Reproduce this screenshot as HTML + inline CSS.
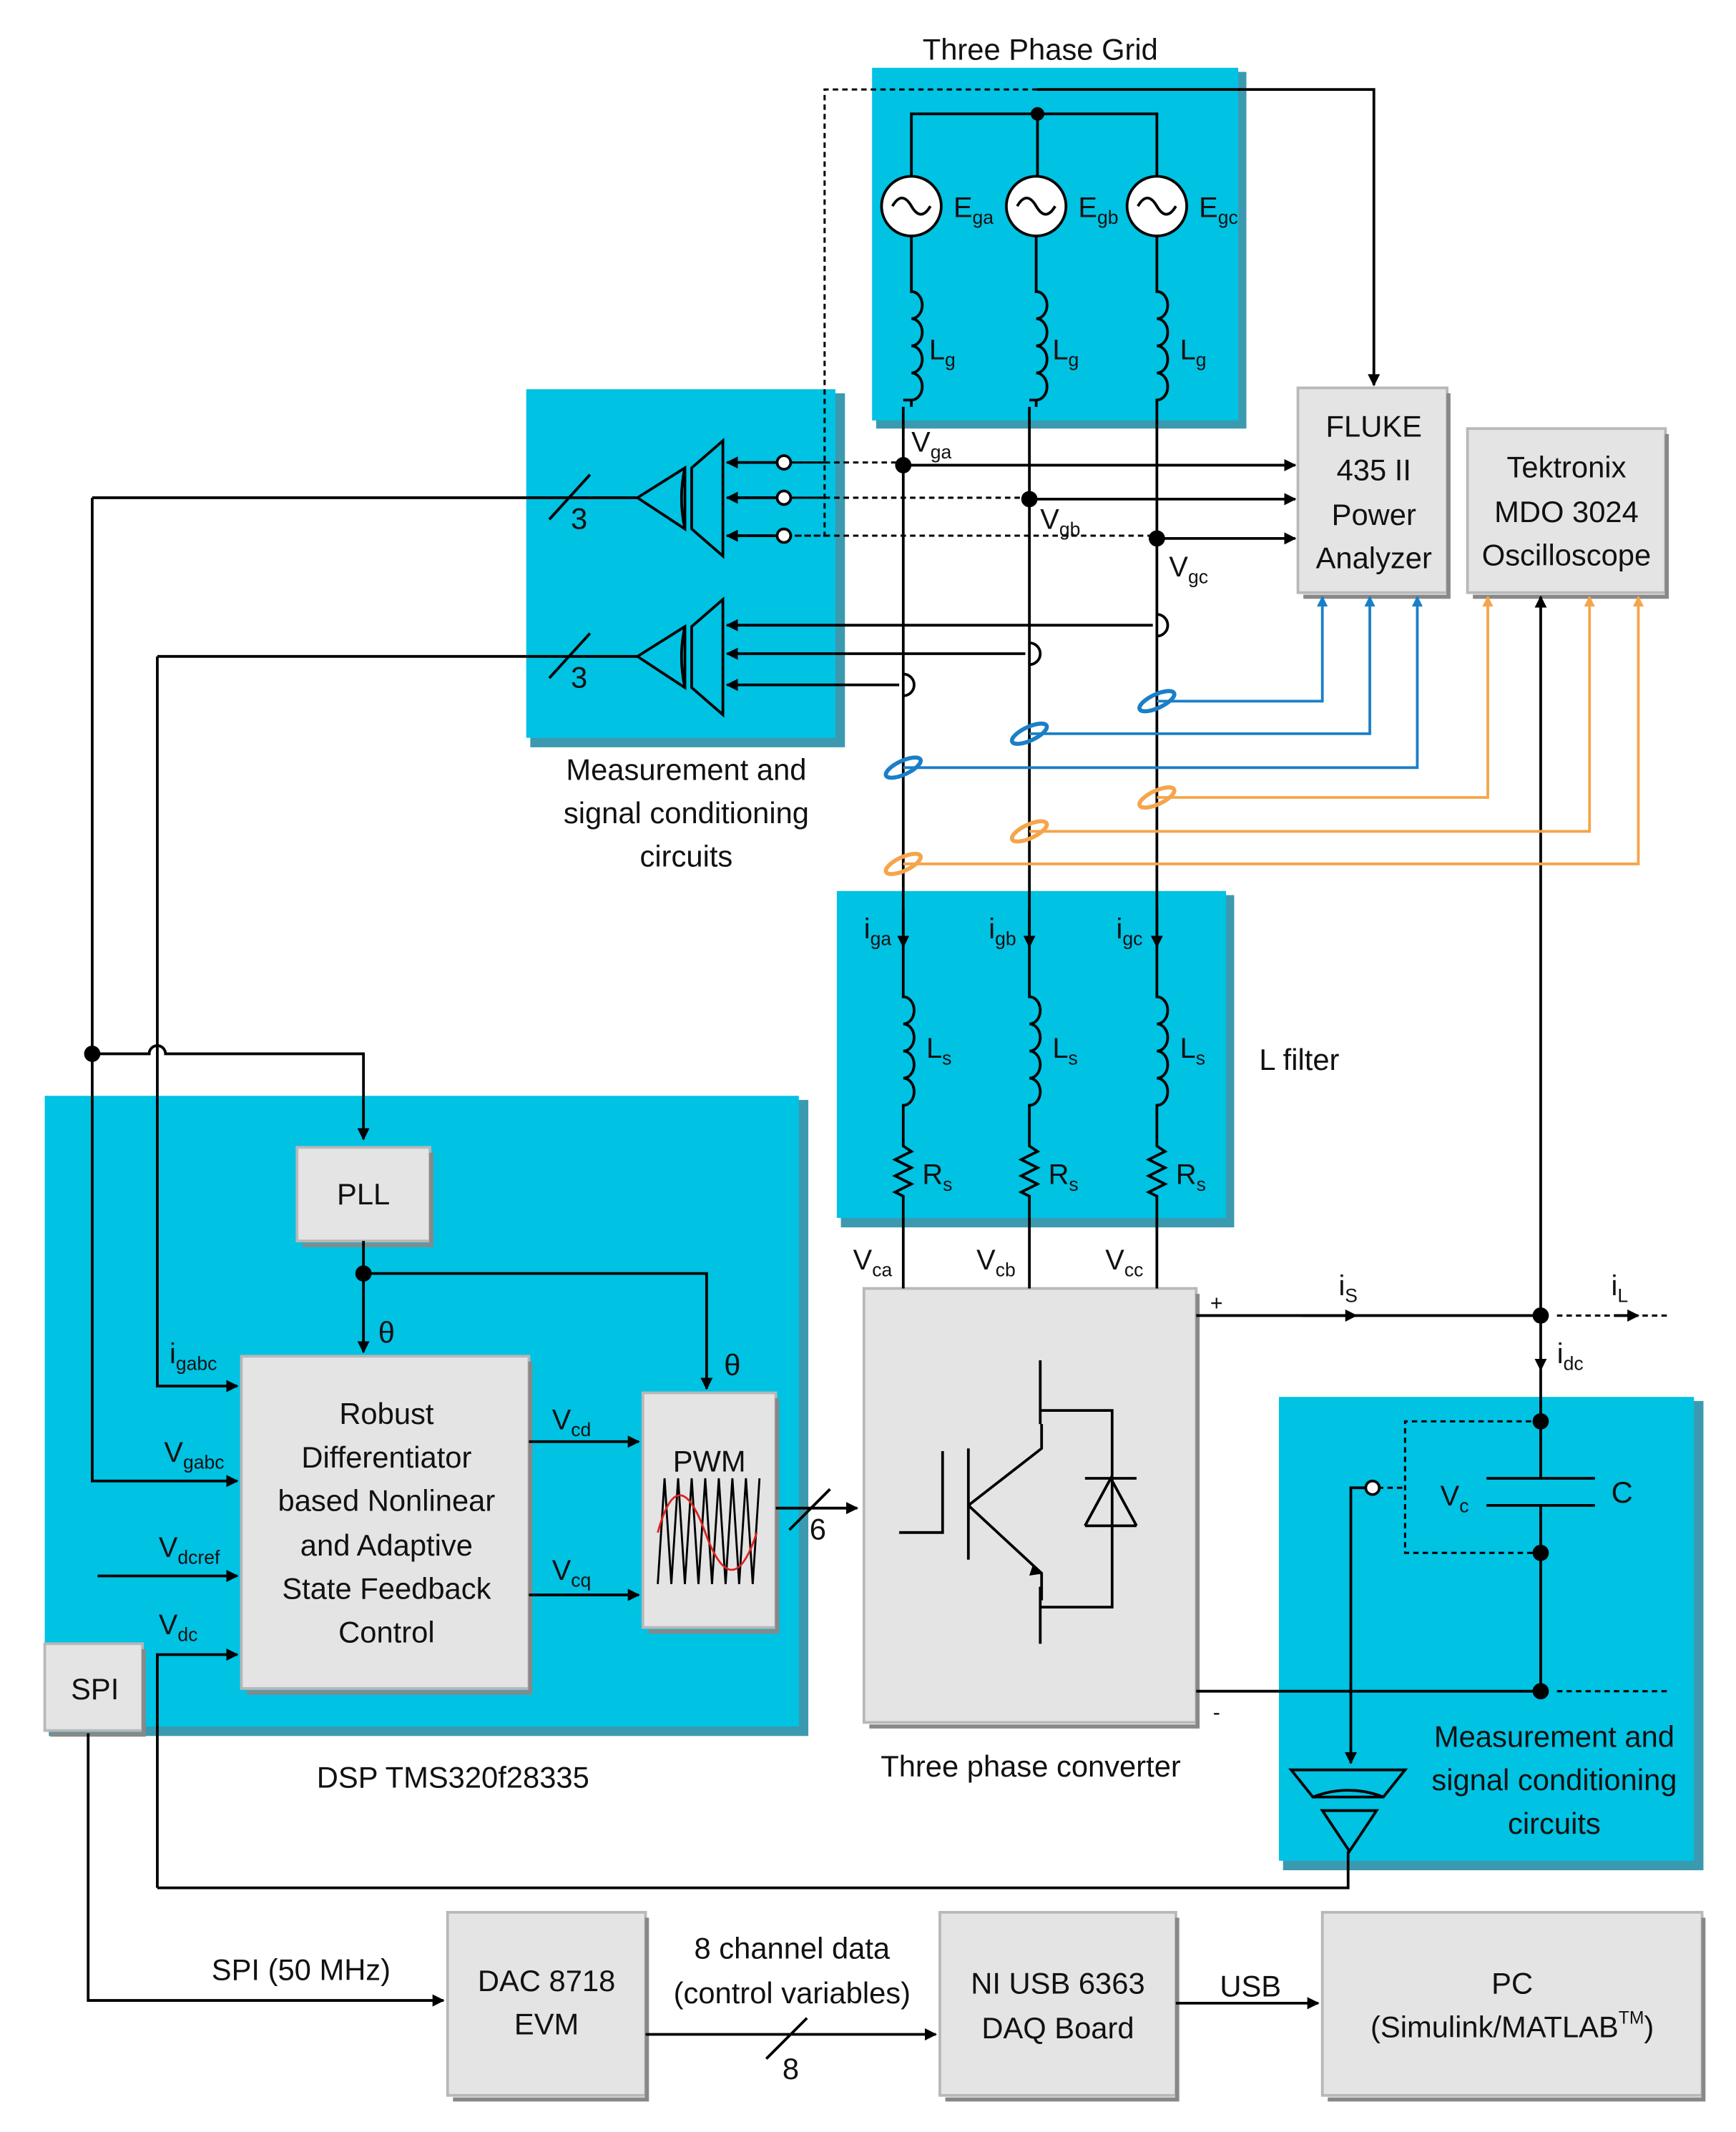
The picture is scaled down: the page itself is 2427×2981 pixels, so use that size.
<!DOCTYPE html>
<html><head><meta charset="utf-8"><style>
html,body{margin:0;padding:0;background:#fff}
svg{display:block}
text{font-family:"Liberation Sans",sans-serif;fill:#111}
</style></head><body>
<svg width="2427" height="2981" viewBox="0 0 1280 1572" preserveAspectRatio="none" xmlns="http://www.w3.org/2000/svg">
<defs>
<marker id="ar" viewBox="0 0 10 10" refX="9" refY="5" markerWidth="9" markerHeight="9" markerUnits="userSpaceOnUse" orient="auto"><path d="M0,0L10,5L0,10z" fill="#000"/></marker>
<marker id="ab" viewBox="0 0 10 10" refX="9" refY="5" markerWidth="8" markerHeight="8" markerUnits="userSpaceOnUse" orient="auto"><path d="M0,0L10,5L0,10z" fill="#1a7fc8"/></marker>
<marker id="ao" viewBox="0 0 10 10" refX="9" refY="5" markerWidth="8" markerHeight="8" markerUnits="userSpaceOnUse" orient="auto"><path d="M0,0L10,5L0,10z" fill="#f5a54a"/></marker>
<marker id="ab2" viewBox="0 0 10 10" refX="9" refY="5" markerWidth="14" markerHeight="14" markerUnits="userSpaceOnUse" orient="auto"><path d="M0,0L10,5L0,10z" fill="#000"/></marker>
</defs>
<g id="cy">
<!-- cyan boxes -->
<rect x="646" y="53" width="273" height="263" fill="#3b9ab0"/><rect x="643" y="50" width="270" height="260" fill="#00c2e3"/>
<rect x="391" y="290" width="232" height="261" fill="#3b9ab0"/><rect x="388" y="287" width="228" height="257" fill="#00c2e3"/>
<rect x="620" y="660" width="290" height="245" fill="#3b9ab0"/><rect x="617" y="657" width="287" height="241" fill="#00c2e3"/>
<rect x="36" y="811" width="560" height="469" fill="#3b9ab0"/><rect x="33" y="808" width="556" height="465" fill="#00c2e3"/>
<rect x="946" y="1033" width="310" height="346" fill="#3b9ab0"/><rect x="943" y="1030" width="306" height="342" fill="#00c2e3"/>
</g>
<g fill="#e4e4e4" stroke="#b8b8b8" stroke-width="2">
<rect x="957" y="286" width="110" height="151"/>
<rect x="1082" y="316" width="146" height="121"/>
<rect x="219" y="846" width="98" height="69"/>
<rect x="178" y="1000" width="212" height="245"/>
<rect x="474" y="1027" width="98" height="173"/>
<rect x="33" y="1212" width="72" height="64"/>
<rect x="637" y="950" width="245" height="320"/>
<rect x="330" y="1410" width="146" height="135"/>
<rect x="693" y="1410" width="174" height="135"/>
<rect x="975" y="1410" width="280" height="135"/>
</g>
<g fill="none" stroke="#888" stroke-width="3">
<path d="M1068,290V440H961"/><path d="M1229,320V440H1086"/><path d="M318,850V918H223"/><path d="M391,1004V1248H182"/><path d="M573,1031V1203H478"/><path d="M106,1216V1279H37"/><path d="M883,954V1273H641"/><path d="M477,1414V1548H334"/><path d="M868,1414V1548H697"/><path d="M1256,1414V1548H979"/>
</g>
<g font-size="22" text-anchor="middle">
<text x="767" y="44">Three Phase Grid</text>
<text x="1013" y="322">FLUKE</text><text x="1013" y="354">435 II</text><text x="1013" y="387">Power</text><text x="1013" y="419">Analyzer</text>
<text x="1155" y="352">Tektronix</text><text x="1155" y="385">MDO 3024</text><text x="1155" y="417">Oscilloscope</text>
<text x="506" y="575">Measurement and</text><text x="506" y="607">signal conditioning</text><text x="506" y="639">circuits</text>
<text x="958" y="789">L filter</text>
<text x="268" y="888">PLL</text>
<text x="285" y="1050">Robust</text><text x="285" y="1082">Differentiator</text><text x="285" y="1114">based Nonlinear</text><text x="285" y="1147">and Adaptive</text><text x="285" y="1179">State Feedback</text><text x="285" y="1211">Control</text>
<text x="523" y="1085">PWM</text>
<text x="70" y="1253">SPI</text>
<text x="334" y="1318">DSP TMS320f28335</text>
<text x="760" y="1310">Three phase converter</text>
<text x="1146" y="1288">Measurement and</text><text x="1146" y="1320">signal conditioning</text><text x="1146" y="1352">circuits</text>
<text x="222" y="1460">SPI (50 MHz)</text>
<text x="403" y="1468">DAC 8718</text><text x="403" y="1500">EVM</text>
<text x="584" y="1444">8 channel data</text><text x="584" y="1477">(control variables)</text>
<text x="780" y="1470">NI USB 6363</text><text x="780" y="1503">DAQ Board</text>
<text x="922" y="1472">USB</text>
<text x="1115" y="1470">PC</text><text x="1115" y="1502">(Simulink/MATLAB<tspan font-size="13" dy="-10">TM</tspan><tspan dy="10">)</tspan></text>
<text x="427" y="390">3</text><text x="427" y="507">3</text><text x="603" y="1135">6</text><text x="583" y="1533">8</text>
<text x="285" y="990">θ</text><text x="540" y="1014">θ</text>
<text x="897" y="966" font-size="16">+</text><text x="897" y="1268" font-size="16">-</text>
<text x="1196" y="1108">C</text>
</g>
<g font-size="21">
<text x="703" y="160">E<tspan font-size="14" dy="5">ga</tspan></text>
<text x="795" y="160">E<tspan font-size="14" dy="5">gb</tspan></text>
<text x="884" y="160">E<tspan font-size="14" dy="5">gc</tspan></text>
<text x="685" y="265">L<tspan font-size="14" dy="5">g</tspan></text><text x="776" y="265">L<tspan font-size="14" dy="5">g</tspan></text><text x="870" y="265">L<tspan font-size="14" dy="5">g</tspan></text>
<text x="672" y="333">V<tspan font-size="14" dy="5">ga</tspan></text>
<text x="767" y="390">V<tspan font-size="14" dy="5">gb</tspan></text>
<text x="862" y="425">V<tspan font-size="14" dy="5">gc</tspan></text>
<text x="637" y="692">i<tspan font-size="14" dy="5">ga</tspan></text><text x="729" y="692">i<tspan font-size="14" dy="5">gb</tspan></text><text x="823" y="692">i<tspan font-size="14" dy="5">gc</tspan></text>
<text x="683" y="780">L<tspan font-size="14" dy="5">s</tspan></text><text x="776" y="780">L<tspan font-size="14" dy="5">s</tspan></text><text x="870" y="780">L<tspan font-size="14" dy="5">s</tspan></text>
<text x="680" y="873">R<tspan font-size="14" dy="5">s</tspan></text><text x="773" y="873">R<tspan font-size="14" dy="5">s</tspan></text><text x="867" y="873">R<tspan font-size="14" dy="5">s</tspan></text>
<text x="629" y="936">V<tspan font-size="14" dy="5">ca</tspan></text><text x="720" y="936">V<tspan font-size="14" dy="5">cb</tspan></text><text x="815" y="936">V<tspan font-size="14" dy="5">cc</tspan></text>
<text x="987" y="955">i<tspan font-size="14" dy="5">S</tspan></text><text x="1188" y="955">i<tspan font-size="14" dy="5">L</tspan></text>
<text x="1148" y="1005">i<tspan font-size="14" dy="5">dc</tspan></text>
<text x="1062" y="1110">V<tspan font-size="14" dy="5">c</tspan></text>
<text x="125" y="1005">i<tspan font-size="14" dy="5">gabc</tspan></text>
<text x="121" y="1078">V<tspan font-size="14" dy="5">gabc</tspan></text>
<text x="117" y="1148">V<tspan font-size="14" dy="5">dcref</tspan></text>
<text x="117" y="1205">V<tspan font-size="14" dy="5">dc</tspan></text>
<text x="407" y="1054">V<tspan font-size="14" dy="5">cd</tspan></text><text x="407" y="1165">V<tspan font-size="14" dy="5">cq</tspan></text>
</g>
<g fill="none" stroke="#000" stroke-width="2">
<!-- grid -->
<path d="M672,130V84H853V130M765,84V130"/>
<circle cx="672" cy="152" r="22" fill="#fff"/><circle cx="764" cy="152" r="22" fill="#fff"/><circle cx="853" cy="152" r="22" fill="#fff"/>
<path d="M658,152q7,-12 14,0t14,0M750,152q7,-12 14,0t14,0M839,152q7,-12 14,0t14,0"/>
<path d="M672,174V215 a8,10 0 0 1 0,20 a8,10 0 0 1 0,20 a8,10 0 0 1 0,20 a8,10 0 0 1 0,20 V300 M666,300V690"/>
<path d="M764,174V215 a8,10 0 0 1 0,20 a8,10 0 0 1 0,20 a8,10 0 0 1 0,20 a8,10 0 0 1 0,20 V300 M759,300V690"/>
<path d="M853,174V215 a8,10 0 0 1 0,20 a8,10 0 0 1 0,20 a8,10 0 0 1 0,20 a8,10 0 0 1 0,20 V690"/>
<path d="M672,295H666M764,295H759"/>
<path d="M666,690V735 a8,10 0 0 1 0,20 a8,10 0 0 1 0,20 a8,10 0 0 1 0,20 a8,10 0 0 1 0,20 V845 l6,4 -12,6 12,6 -12,6 12,6 -12,6 6,3V950"/>
<path d="M759,690V735 a8,10 0 0 1 0,20 a8,10 0 0 1 0,20 a8,10 0 0 1 0,20 a8,10 0 0 1 0,20 V845 l6,4 -12,6 12,6 -12,6 12,6 -12,6 6,3V950"/>
<path d="M853,690V735 a8,10 0 0 1 0,20 a8,10 0 0 1 0,20 a8,10 0 0 1 0,20 a8,10 0 0 1 0,20 V845 l6,4 -12,6 12,6 -12,6 12,6 -12,6 6,3V950"/>
<path d="M666,670V698" marker-end="url(#ar)"/><path d="M759,670V698" marker-end="url(#ar)"/><path d="M853,670V698" marker-end="url(#ar)"/>
<!-- to FLUKE -->
<path d="M765,66H1013V284" marker-end="url(#ar)"/>
<path d="M666,343H955" marker-end="url(#ar)"/>
<path d="M759,368H955" marker-end="url(#ar)"/>
<path d="M853,397H955" marker-end="url(#ar)"/>
<!-- amplifiers -->
<path d="M470,367L505,345V390Z M505,345q-5,22 0,45 M533,325V410L510,390V345Z"/>
<path d="M470,484L505,462V507Z M505,462q-5,22 0,45 M533,442V527L510,507V462Z"/>
<path d="M580,341H536" marker-end="url(#ar)"/><path d="M580,367H536" marker-end="url(#ar)"/><path d="M580,395H536" marker-end="url(#ar)"/>
<path d="M850,461H536" marker-end="url(#ar)"/><path d="M756,482H536" marker-end="url(#ar)"/><path d="M663,505H536" marker-end="url(#ar)"/>
<path d="M853,453a8,8 0 0 1 0,16M759,474a8,8 0 0 1 0,16M666,497a8,8 0 0 1 0,16"/>
<path d="M68,367H470M405,383L435,350M116,484H470M405,500L435,467"/>
<!-- left buses -->
<path d="M68,367V1092H175" marker-end="url(#ar)"/>
<path d="M116,484V1022H175" marker-end="url(#ar)"/>
<path d="M68,777H110a6,6 0 0 1 12,0H268V840" marker-end="url(#ar)"/>
<path d="M268,915V997" marker-end="url(#ar)"/>
<path d="M268,939H521V1024" marker-end="url(#ar)"/>
<path d="M72,1162H175" marker-end="url(#ar)"/>
<path d="M390,1063H471" marker-end="url(#ar)"/><path d="M390,1176H471" marker-end="url(#ar)"/>
<path d="M572,1112H632" marker-end="url(#ar)"/><path d="M582,1128L612,1098"/>
<path d="M116,1392V1220H175" marker-end="url(#ar)"/>
<path d="M116,1392H994V1365"/>
<!-- DC side -->
<path d="M882,970H1136"/><path d="M960,970H1000" marker-end="url(#ar)"/>
<path d="M1190,970H1208" marker-end="url(#ar)"/>
<path d="M882,1247H1136"/>
<path d="M1136,970V1010" marker-end="url(#ar)"/>
<path d="M1136,1010V1090M1096,1090H1176M1096,1110H1176M1136,1110V1247"/>
<path d="M1136,970V440" marker-end="url(#ar)"/>
<path d="M1008,1097H996V1300" marker-end="url(#ar)"/>
<path d="M952,1305H1036L1020,1325H968Z M968,1325q26,-10 52,0 M975,1335H1015L995,1365Z"/>
<!-- bottom -->
<path d="M65,1278V1475H327" marker-end="url(#ar)"/>
<path d="M476,1500H690" marker-end="url(#ar)"/><path d="M565,1518L595,1488"/>
<path d="M867,1477H972" marker-end="url(#ar)"/>
<!-- converter symbol -->
<path d="M663,1130H695V1070M714,1068V1150M714,1110L768,1068V1050M767,1007V1050M767,1007V1003M767,1040H820V1185H767M714,1110L768,1160V1180M767,1170V1212M800,1125H838M800,1125L819,1090L838,1125M800,1090H838"/>
<path d="M762,1158L768,1160" marker-end="url(#ar)"/>
<!-- PWM carrier -->
<path d="M485,1168L490,1090L495,1168L500,1090L505,1168L510,1090L515,1168L520,1090L525,1168L530,1090L535,1168L540,1090L545,1168L550,1090L555,1168L560,1090" stroke-width="1.5"/>
</g>
<path d="M485,1130q15,-55 35,0t38,0" fill="none" stroke="#d22" stroke-width="1.5"/>
<g fill="none" stroke="#000" stroke-width="1.6" stroke-dasharray="4,3">
<path d="M765,66H608V395H580M608,341H580M608,367H580"/>
<path d="M580,341H666M580,367H759M580,395H853"/>
<path d="M1136,1048H1036V1145H1136M1016,1097H1036"/>
<path d="M1148,970H1230M1148,1247H1230"/>
</g>
<g fill="#fff" stroke="#000" stroke-width="2"><circle cx="578" cy="341" r="5"/><circle cx="578" cy="367" r="5"/><circle cx="578" cy="395" r="5"/><circle cx="1012" cy="1097" r="5"/></g>
<g fill="#000"><circle cx="765" cy="84" r="5"/><circle cx="666" cy="343" r="6"/><circle cx="759" cy="368" r="6"/><circle cx="853" cy="397" r="6"/><circle cx="68" cy="777" r="6"/><circle cx="268" cy="939" r="6"/><circle cx="1136" cy="970" r="6"/><circle cx="1136" cy="1048" r="6"/><circle cx="1136" cy="1145" r="6"/><circle cx="1136" cy="1247" r="6"/></g>
<!-- probes -->
<g fill="none" stroke-width="2">
<path d="M853,517H975V440" stroke="#1a7fc8" marker-end="url(#ab)"/>
<path d="M759,541H1010V440" stroke="#1a7fc8" marker-end="url(#ab)"/>
<path d="M666,566H1045V440" stroke="#1a7fc8" marker-end="url(#ab)"/>
<path d="M853,588H1097V440" stroke="#f5a54a" marker-end="url(#ao)"/>
<path d="M759,613H1172V440" stroke="#f5a54a" marker-end="url(#ao)"/>
<path d="M666,637H1208V440" stroke="#f5a54a" marker-end="url(#ao)"/>
<ellipse cx="853" cy="517" rx="14" ry="5" transform="rotate(-25 853 517)" stroke="#1a7fc8" stroke-width="3"/>
<ellipse cx="759" cy="541" rx="14" ry="5" transform="rotate(-25 759 541)" stroke="#1a7fc8" stroke-width="3"/>
<ellipse cx="666" cy="566" rx="14" ry="5" transform="rotate(-25 666 566)" stroke="#1a7fc8" stroke-width="3"/>
<ellipse cx="853" cy="588" rx="14" ry="5" transform="rotate(-25 853 588)" stroke="#f5a54a" stroke-width="3"/>
<ellipse cx="759" cy="613" rx="14" ry="5" transform="rotate(-25 759 613)" stroke="#f5a54a" stroke-width="3"/>
<ellipse cx="666" cy="637" rx="14" ry="5" transform="rotate(-25 666 637)" stroke="#f5a54a" stroke-width="3"/>
</g>
</svg>
</body></html>
